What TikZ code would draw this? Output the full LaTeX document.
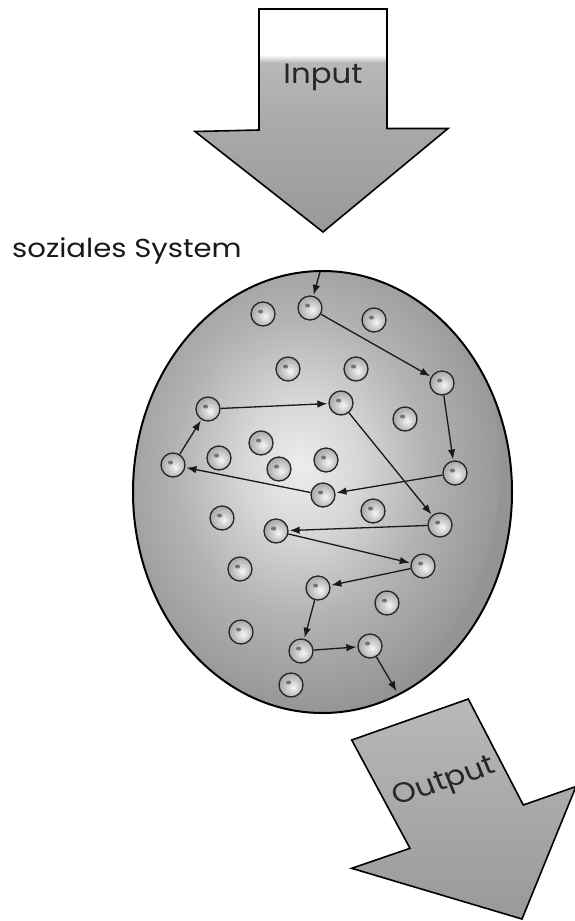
\documentclass[tikz,border=0pt]{standalone}
\usepackage{fontspec}
\setmainfont{Poppins}
\usetikzlibrary{arrows.meta,shapes.geometric}
\definecolor{ellin}{gray}{0.93}
\definecolor{ellmid}{gray}{0.84}
\definecolor{ellmid2}{gray}{0.70}
\definecolor{ellout}{gray}{0.58}
\definecolor{ingl}{gray}{0.72}
\definecolor{ingm}{gray}{0.66}
\definecolor{ingd}{gray}{0.60}
\definecolor{balllt}{gray}{0.97}
\definecolor{ballmd}{gray}{0.84}
\definecolor{balldk}{gray}{0.68}
\pgfdeclareradialshading{blob}{\pgfpoint{0bp}{0bp}}{color(0bp)=(ellin); color(7bp)=(ellmid); color(15bp)=(ellmid2); color(25bp)=(ellout); color(50bp)=(ellout)}
\pgfdeclareverticalshading{inshade}{100bp}{color(0bp)=(ingd); color(25bp)=(ingd); color(48bp)=(ingm); color(63bp)=(ingl); color(64.7bp)=(white); color(100bp)=(white)}
\pgfdeclareradialshading{ballsh}{\pgfpoint{5bp}{-5bp}}{color(0bp)=(balllt); color(10bp)=(ballmd); color(25bp)=(balldk); color(50bp)=(balldk)}
\tikzset{
  ball/.style={circle, draw=black!85, line width=1.3pt, minimum size=24pt, inner sep=0pt,
    shade, shading=ballsh,
    path picture={\fill[black!55] ([xshift=-2.5pt,yshift=2.5pt]path picture bounding box.center) ellipse (2.6pt and 2pt);}},
  conn/.style={line width=1.3pt, draw=black!90, -{Latex[length=10pt,width=7.5pt]}, shorten >=1pt},
  lab/.style={font=\fontsize{28}{30}\selectfont, text=black!85, inner sep=0pt, xscale=1.1},
  biglab/.style={font=\fontsize{26}{28}\selectfont, text=black!90, inner sep=0pt, xscale=1.12},
  bigarrow/.style={draw=black, line width=1.6pt, line join=miter}
}
\begin{document}
\begin{tikzpicture}[x=1pt,y=-1pt]
\useasboundingbox (0,0) rectangle (575,921);
\fill[white] (0,0) rectangle (575,921);

% Input arrow
\shadedraw[bigarrow, shading=inshade] (259,9) -- (387,9) -- (387,128.5) -- (448,128.5) -- (323,232) -- (195,131.5) -- (259,130) -- cycle;
\node[lab, anchor=base] (inlab) at (323,83) {Input};

% label
\node[biglab, anchor=base west] (syslab) at (12,257) {soziales System};

% system ellipse
\node[ellipse, draw=black, line width=2pt, minimum width=379pt, minimum height=442pt, inner sep=0pt, fill=ellout,
  path picture={\shade[shading=blob] ([xshift=-27pt,yshift=25pt]path picture bounding box.center) ellipse (205pt and 250pt);}] (sys) at (322.5,492) {};

% elements
\node[ball] (c1) at (263,314) {};
\node[ball] (c2) at (310,308) {};
\node[ball] (c3) at (374,320) {};
\node[ball] (c4) at (288,369) {};
\node[ball] (c5) at (356,369) {};
\node[ball] (c6) at (442,383) {};
\node[ball] (c7) at (208,409) {};
\node[ball] (c8) at (341,403) {};
\node[ball] (c9) at (405,419) {};
\node[ball] (c10) at (261,443) {};
\node[ball] (c11) at (326,460) {};
\node[ball] (c12) at (219,458) {};
\node[ball] (c13) at (279,469) {};
\node[ball] (c14) at (173,465) {};
\node[ball] (c15) at (455,473) {};
\node[ball] (c16) at (323,495) {};
\node[ball] (c17) at (222,518) {};
\node[ball] (c18) at (373,511) {};
\node[ball] (c19) at (276,531) {};
\node[ball] (c20) at (440,525) {};
\node[ball] (c21) at (240,569) {};
\node[ball] (c22) at (423,566) {};
\node[ball] (c23) at (318,588) {};
\node[ball] (c24) at (387,603) {};
\node[ball] (c25) at (241,632) {};
\node[ball] (c26) at (301,651) {};
\node[ball] (c27) at (370,646) {};
\node[ball] (c28) at (291,685) {};

\coordinate (inpt) at (320,272);
\coordinate (outpt) at (397,692);

% connectors
\draw[conn] (inpt) -- (c2);
\draw[conn] (c2) -- (c6);
\draw[conn] (c6) -- (c15);
\draw[conn] (c15) -- (c16);
\draw[conn] (c16) -- (c14);
\draw[conn] (c14) -- (c7);
\draw[conn] (c7) -- (c8);
\draw[conn] (c8) -- (c20);
\draw[conn] (c20) -- (c19);
\draw[conn] (c19) -- (c22);
\draw[conn] (c22) -- (c23);
\draw[conn] (c23) -- (c26);
\draw[conn] (c26) -- (c27);
\draw[conn] (c27) -- (outpt);

% Output arrow
\shadedraw[bigarrow, top color={gray!55}, bottom color={gray!80}] (351.7,740) -- (468.3,699) -- (523.3,805) -- (576,786.5) -- (522,919) -- (351.7,868.3) -- (410,848.3) -- cycle;
\node[lab, anchor=base, rotate=20] (outlab) at (447,789) {Output};
\end{tikzpicture}
\end{document}
